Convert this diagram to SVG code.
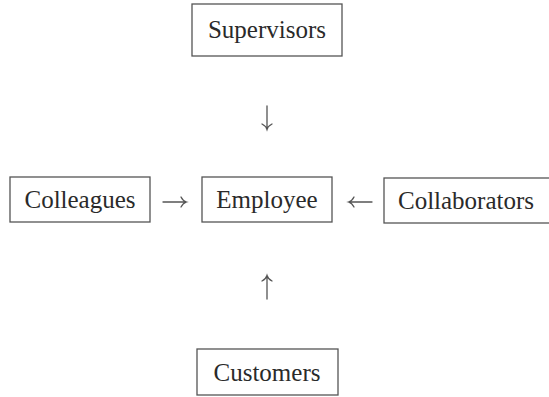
<svg xmlns="http://www.w3.org/2000/svg" width="549" height="397" viewBox="0 0 549 397">
  <style>
    .box { fill: #ffffff; stroke: #555555; stroke-width: 1.3; }
    .label { font-family: "Liberation Serif", "DejaVu Serif", serif; font-size: 25px; fill: #2a2a2a; text-anchor: middle; }
    .conn { fill: none; stroke: #555555; stroke-width: 1.3; stroke-linecap: round; }
  </style>
  <rect width="549" height="397" fill="#ffffff"/>

  <g id="supervisors">
    <rect class="box" x="192" y="4" width="150" height="52"/>
    <text class="label" x="267" y="38">Supervisors</text>
  </g>

  <g id="colleagues">
    <rect class="box" x="10" y="177" width="140" height="45"/>
    <text class="label" x="80" y="208">Colleagues</text>
  </g>

  <g id="employee">
    <rect class="box" x="202" y="177" width="130" height="45"/>
    <text class="label" x="267" y="208">Employee</text>
  </g>

  <g id="collaborators">
    <rect class="box" x="384" y="178" width="168" height="45"/>
    <text class="label" x="466" y="209">Collaborators</text>
  </g>

  <g id="customers">
    <rect class="box" x="197" y="349" width="141" height="46"/>
    <text class="label" x="267" y="381">Customers</text>
  </g>

  <g id="connectors">
    <!-- down: supervisors to employee -->
    <path class="conn" d="M267,106 V128 M262,124 Q266,126 267,129.5 Q268,126 272,124"/>
    <!-- right: colleagues to employee -->
    <path class="conn" d="M163,202 H185 M181,197 Q183,201 186.5,202 Q183,203 181,207"/>
    <!-- left: collaborators to employee -->
    <path class="conn" d="M372,202 H350 M354,197 Q352,201 348.5,202 Q352,203 354,207"/>
    <!-- up: customers to employee -->
    <path class="conn" d="M267,299 V277 M262,281 Q266,279 267,275.5 Q268,279 272,281"/>
  </g>
</svg>
